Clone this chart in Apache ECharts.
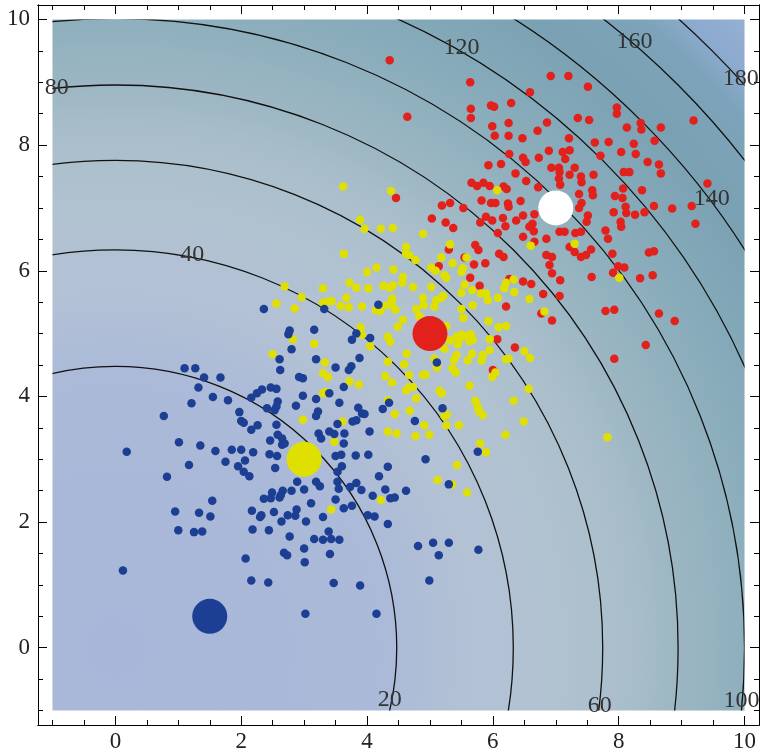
<!DOCTYPE html>
<html>
<head>
<meta charset="utf-8">
<script src="https://cdn.jsdelivr.net/npm/echarts@6/dist/echarts.min.js"></script>
<style>
  html, body, #main { width: 760px; height: 756px; margin: 0; background: #fff; }
</style>
</head>
<body>
<div id="main"></div>
<script>
// contour levels of x^2 + y^2 and where their labels sit [x, y, level]
var contourLevels = [20, 40, 60, 80, 100, 120, 140, 160, 180];
var contourLabels = [
  [4.36, -0.83, 20], [1.22, 6.25, 40], [7.70, -0.92, 60], [-0.93, 8.92, 80],
  [9.95, -0.84, 100], [5.50, 9.55, 120], [9.48, 7.14, 140], [8.25, 9.65, 160], [9.94, 9.06, 180]
];

var majorTicks = [0, 2, 4, 6, 8, 10];
var minorTicks = [-1, -0.5, 0, 0.5, 1, 1.5, 2, 2.5, 3, 3.5, 4, 4.5, 5, 5.5, 6, 6.5, 7, 7.5, 8, 8.5, 9, 9.5, 10];
var plotRange = [-1, 10];
var frameRange = [-1.23, 10.23];

// cluster centres: blue, yellow, red, white
var centers = [[1.5, 0.5], [3, 3], [5, 5], [7, 7]];

var redPoints = [
  [4.36,9.35],[5.64,9.00],[5.97,8.63],[6.02,8.61],[6.29,8.67],[5.65,8.58],[5.65,8.43],[4.64,8.45],[5.99,8.30],[6.25,8.35],
  [6.03,8.15],[6.25,8.15],[6.26,7.86],[5.93,7.68],[6.13,7.70],[6.36,7.55],[5.66,7.40],[5.75,7.35],[5.85,7.40],[5.95,7.35],
  [6.17,7.34],[6.22,7.30],[4.46,7.16],[5.19,7.04],[5.32,7.08],[5.53,7.00],[5.82,7.12],[5.97,7.08],[6.04,7.08],[6.24,7.07],
  [6.25,7.02],[5.03,6.83],[5.25,6.77],[5.37,6.68],[5.80,6.77],[5.89,6.86],[5.99,6.80],[6.16,6.84],[6.37,6.80],[6.20,6.71],
  [6.08,6.60],
  [6.92,9.10],[7.20,9.10],[7.51,8.93],[6.59,8.84],[7.97,8.60],[7.97,8.50],[7.35,8.43],[7.53,8.40],[6.86,8.36],[9.19,8.39],
  [8.35,8.35],[8.36,8.25],[8.13,8.28],[8.67,8.28],[6.71,8.23],[6.47,8.11],[7.21,8.11],[7.62,8.04],[7.84,8.05],[8.24,8.02],
  [8.57,8.07],[6.89,7.91],[7.11,7.89],[7.22,7.92],[7.15,7.78],[8.04,7.89],[8.27,7.86],[7.71,7.83],[6.73,7.80],[6.48,7.80],
  [6.52,7.73],[8.46,7.73],[8.64,7.69],[6.93,7.64],[7.05,7.64],[7.06,7.57],[7.30,7.64],[7.22,7.53],[7.40,7.50],[7.60,7.53],
  [8.08,7.57],[8.17,7.57],[8.67,7.55],[7.05,7.47],[7.41,7.41],[7.07,7.37],[6.72,7.33],[6.53,7.43],[9.41,7.39],[8.07,7.31],
  [8.37,7.28],[7.58,7.28],[7.59,7.20],[7.37,7.22],[7.94,7.19],[8.06,7.16],[6.44,7.11],[7.41,7.08],[7.37,7.00],[8.56,7.03],
  [8.85,6.99],[9.16,7.03],[8.11,7.02],[8.12,6.92],[7.92,6.93],[8.26,6.89],[8.41,6.93],[7.51,6.88],[7.49,6.78],[6.66,6.90],
  [6.48,6.88],[9.22,6.75],[8.03,6.78],[8.04,6.70],[6.63,6.75],[6.58,6.70],[6.65,6.63],[7.06,6.62],[7.14,6.62],[7.31,6.60],
  [7.40,6.62],[7.79,6.64],[6.48,6.54],[7.83,6.51],[6.85,6.51],
  [6.66,6.46],[7.22,6.38],[7.30,6.30],[7.40,6.22],[7.48,6.25],[7.56,6.34],[6.85,6.25],[6.94,6.22],[7.90,6.27],[8.48,6.29],
  [8.56,6.31],[6.90,6.09],[6.94,5.96],[7.99,6.07],[8.09,6.05],[7.91,5.97],[7.57,5.90],[8.34,5.88],[8.54,5.93],[6.48,5.83],
  [6.61,5.79],[7.07,5.85],[6.80,5.63],[7.06,5.60],[6.77,5.32],[6.94,5.21],[7.79,5.36],[7.93,5.38],[8.64,5.32],[8.89,5.20],
  [8.43,4.82],[7.93,4.60],
  [5.30,6.34],[5.14,6.07],[5.55,6.21],[5.72,6.41],[5.77,6.33],[5.70,6.10],[5.88,6.12],[6.10,6.27],[6.17,6.22],[5.64,5.89],
  [5.79,5.76],[6.26,5.87],[6.21,5.43],[6.07,4.91],[6.35,4.78],[6.00,4.42]
];

var yellowPoints = [
  [3.62,7.34],[4.38,7.27],[6.07,7.28],[3.89,6.81],[3.96,6.67],[4.22,6.67],[4.41,6.68],[4.89,6.59],
  [6.60,6.40],[7.30,6.43],[8.01,5.89],[6.58,5.55],[6.82,5.35],[6.50,4.72],[6.59,4.61],[6.57,4.12],[6.49,3.60],
  [2.69,5.75],[2.96,5.58],[2.56,5.48],[2.85,5.40],[2.82,4.91],[2.50,4.67],[2.98,3.63],
  [4.62,6.38],[5.32,6.42],[3.63,6.27],[4.62,6.27],[4.67,6.25],[4.77,6.17],[5.18,6.21],[5.58,6.21],[5.36,6.12],[5.02,6.05],
  [5.09,6.00],[5.23,5.93],[5.52,6.04],[5.50,5.98],[5.26,5.89],[4.00,5.98],[4.15,6.05],[4.42,6.02],[4.57,5.90],[4.56,5.81],
  [3.72,5.81],[3.83,5.73],[4.02,5.72],[3.30,5.72],[4.26,5.76],[4.36,5.73],[4.41,5.77],[4.73,5.74],[5.02,5.74],[5.55,5.78],
  [5.67,5.69],[5.81,5.64],[5.89,5.64],[5.50,5.65],[6.18,5.72],[6.21,5.81],[6.33,5.86],[6.34,5.66],[6.08,5.57],[5.92,5.53],
  [5.18,5.57],[5.21,5.60],[5.10,5.53],[4.89,5.57],[4.90,5.45],[5.07,5.43],[5.68,5.45],[5.50,5.39],[5.53,5.25],[5.93,5.20],
  [6.09,5.10],[6.21,5.12],[4.40,5.56],[4.39,5.48],[4.31,5.45],[3.67,5.57],[3.30,5.49],[3.38,5.51],[3.44,5.52],[3.58,5.44],
  [3.71,5.42],[3.92,5.43],[4.14,5.37],[4.21,5.36],[4.45,5.38],[4.78,5.39],[4.57,5.22],[4.49,5.11],[3.90,5.10],[3.92,4.98],
  [4.05,4.80],[4.33,4.95],[4.37,4.87],[3.16,4.84],[4.83,5.28],[4.88,5.16],[5.26,5.12],[5.31,4.89],[5.42,4.95],[5.47,4.91],
  [5.50,4.98],[5.58,4.96],[5.65,4.99],[5.68,4.90],[5.44,4.83],[5.63,4.88],[5.95,4.91],[5.95,4.74],[5.67,4.68],[5.84,4.66],
  [5.82,4.57],[5.60,4.57],[5.38,4.58],[5.42,4.66],[5.36,4.45],[5.41,4.38],[6.21,4.59],[6.25,4.60],[6.04,4.38],[5.99,4.31],
  [5.23,4.76],[5.07,4.60],[5.11,4.46],[4.63,4.68],[4.59,4.51],[4.67,4.34],[4.33,4.55],[4.29,4.32],[4.40,4.22],[4.89,4.34],
  [4.93,4.35],[5.63,4.17],[5.15,4.09],[5.19,4.05],[4.78,3.97],[4.67,4.15],[4.73,4.15],[4.62,4.10],[3.87,4.19],[3.72,4.24],
  [3.30,4.05],[3.35,4.07],[3.33,4.54],[3.30,4.37],[3.38,4.31],[5.72,3.93],[5.76,3.84],[5.78,3.76],[5.84,3.70],[4.68,3.77],
  [4.44,3.72],[5.27,3.71],[5.23,3.69],[5.26,3.54],[5.46,3.54],[4.91,3.54],[6.33,3.93],[4.33,3.94],[3.61,3.60],
  [4.33,3.44],[4.47,3.41],[4.77,3.37],[4.99,3.39],[6.20,3.39],[5.80,3.25],[5.89,3.11],[3.48,3.28],[5.43,2.91],[5.12,2.67],
  [5.35,2.60],[5.59,2.47],[4.22,2.35],[3.43,2.20],[7.82,3.35]
];

var bluePoints = [
  [2.36,5.39],[2.77,5.05],[2.75,4.99],[2.80,4.75],[2.61,4.59],[2.62,4.42],[2.92,4.31],[2.98,4.29],[1.10,4.45],[1.27,4.45],
  [1.41,4.30],[1.67,4.30],[1.32,4.14],[1.55,3.99],[1.79,3.94],[1.21,3.89],[2.16,3.98],[2.25,4.05],[2.33,4.11],[2.47,4.14],
  [2.56,4.12],[2.58,3.92],[2.41,3.81],[2.53,3.78],[2.56,3.84],[2.98,4.01],[2.87,3.85],[1.97,3.75],[2.00,3.61],[2.04,3.58],
  [0.77,3.69],[2.26,3.54],[2.16,3.47],[2.56,3.55],
  [4.18,5.46],[3.32,5.39],[3.16,5.06],[3.83,5.00],[3.76,4.90],[4.05,4.93],[3.88,4.61],[3.19,4.59],[3.50,4.46],[3.75,4.48],
  [3.71,4.42],[5.11,4.54],[3.63,4.15],[3.40,4.05],[3.19,3.96],[3.56,3.90],[3.86,3.82],[3.92,3.73],[3.96,3.72],[4.35,3.90],
  [4.25,3.80],[3.22,3.76],[3.19,3.69],[3.53,3.56],[3.77,3.60],[3.83,3.62],[4.76,3.61],[5.20,3.81],
  [0.18,3.12],[1.01,3.27],[1.35,3.22],[1.59,3.13],[1.85,3.15],[2.00,3.15],[2.19,3.11],[2.46,3.30],[2.58,3.39],[2.65,3.33],
  [2.65,3.23],[2.69,3.25],[2.45,3.08],[2.57,3.05],[2.54,2.86],[1.17,2.91],[1.75,2.96],[2.06,2.98],[1.95,2.89],[2.04,2.80],
  [2.13,2.73],[0.82,2.72],[2.89,2.64],[3.00,2.52],[2.80,2.50],[2.66,2.50],[2.63,2.43],[2.49,2.47],[2.36,2.37],[2.47,2.38],
  [2.61,2.39],[1.54,2.34],[0.95,2.17],[1.33,2.15],[1.51,2.09],[2.17,2.18],[2.32,2.11],[2.30,2.08],[2.52,2.16],[2.64,2.01],
  [2.74,2.11],[2.86,2.10],[2.88,2.20],[3.03,2.01],[1.00,1.87],[1.25,1.84],[1.38,1.85],[2.18,1.88],[2.44,1.87],[2.77,1.77],
  [3.00,1.58],[2.68,1.51],[2.73,1.47],[3.01,1.36],[2.07,1.42],[0.12,1.23],[2.16,1.07],[2.43,1.04],[3.02,0.54],
  [3.23,3.41],[3.40,3.44],[3.48,3.40],[3.64,3.41],[4.04,3.44],[3.27,3.33],[3.63,3.25],[3.50,3.05],[3.59,3.07],[3.82,3.06],
  [4.02,3.07],[3.60,2.89],[3.53,2.80],[4.33,2.88],[4.93,3.00],[5.76,3.12],[4.19,2.73],[3.19,2.64],[3.25,2.57],[3.53,2.64],
  [3.55,2.53],[3.73,2.56],[3.83,2.62],[3.91,2.51],[4.29,2.52],[4.62,2.50],[4.09,2.42],[4.37,2.38],[4.44,2.39],[3.50,2.36],
  [3.63,2.22],[3.76,2.26],[3.11,2.30],[5.30,2.60],[4.01,2.11],[4.12,2.09],[3.30,2.08],[4.33,1.97],[3.39,1.85],[3.16,1.73],
  [3.30,1.72],[3.43,1.73],[3.56,1.72],[3.41,1.49],[4.81,1.62],[5.05,1.67],[5.30,1.67],[5.14,1.47],[5.77,1.56],[4.99,1.07],
  [3.47,1.03],[3.89,0.99],[4.15,0.54]
];

var blue = '#1c3f94', yellow = '#e0e000', red = '#e2201c';
var centerColors = [blue, yellow, red, '#ffffff'];
var serif = 'Liberation Serif';

// background colour as a function of distance from the origin
var rMax = 14.2;
var shadeStops = [
  [0, '#a8b6d9'], [4.4, '#abbad8'], [5.6, '#b3c1d5'], [7.0, '#b1c2d1'], [8.3, '#a8bdca'],
  [9.0, '#9bb6c2'], [10.0, '#8eafbd'], [11.0, '#83a8b8'], [12.0, '#7aa1b3'], [13.0, '#7ca3b9'],
  [13.5, '#8caacd'], [14.2, '#95b1d4']
];

function plotRect(api) {
  var tl = api.coord([plotRange[0], plotRange[1]]);
  var br = api.coord([plotRange[1], plotRange[0]]);
  return { x: tl[0], y: tl[1], width: br[0] - tl[0], height: br[1] - tl[1] };
}

function renderShade(params, api) {
  var o = api.coord([0, 0]);
  var R = api.size([rMax, 0])[0];
  return {
    type: 'rect',
    shape: plotRect(api),
    silent: true,
    style: {
      fill: {
        type: 'radial', x: o[0], y: o[1], r: R, global: true,
        colorStops: shadeStops.map(function (s) { return { offset: s[0] / rMax, color: s[1] }; })
      }
    }
  };
}

function renderContour(params, api) {
  var o = api.coord([api.value(0), api.value(1)]);
  var r = api.size([Math.sqrt(api.value(2)), 0])[0];
  return {
    type: 'group',
    clipPath: { type: 'rect', shape: plotRect(api) },
    children: [{
      type: 'circle',
      shape: { cx: o[0], cy: o[1], r: r },
      style: { fill: 'none', stroke: '#111', lineWidth: 1.3 }
    }]
  };
}

function renderLabel(params, api) {
  var p = api.coord([api.value(0), api.value(1)]);
  return {
    type: 'text',
    x: p[0], y: p[1],
    style: {
      text: String(api.value(2)),
      fontFamily: serif,
      fontSize: 24,
      fill: '#333',
      align: 'center',
      verticalAlign: 'middle'
    }
  };
}

function axis(dim, pos, ticks, len, labels) {
  var a = {
    type: 'value',
    position: pos,
    min: frameRange[0],
    max: frameRange[1],
    axisLine: { show: true, onZero: false, lineStyle: { color: '#000', width: 1 } },
    axisTick: { show: true, inside: true, length: len, customValues: ticks, lineStyle: { color: '#000', width: 1 } },
    axisLabel: { show: false },
    splitLine: { show: false }
  };
  if (labels) {
    a.axisLabel = {
      show: true,
      customValues: majorTicks,
      fontFamily: serif,
      fontSize: 23,
      color: '#222',
      margin: dim === 'x' ? 5 : 8
    };
  }
  return a;
}

var chart = echarts.init(document.getElementById('main'), null, { renderer: 'canvas' });

chart.setOption({
  animation: false,
  grid: { left: 38, right: 1, top: 5, bottom: 31, containLabel: false },
  xAxis: [
    axis('x', 'bottom', majorTicks, 9, true),
    axis('x', 'bottom', minorTicks, 5, false),
    axis('x', 'top', majorTicks, 9, false),
    axis('x', 'top', minorTicks, 5, false)
  ],
  yAxis: [
    axis('y', 'left', majorTicks, 9, true),
    axis('y', 'left', minorTicks, 5, false),
    axis('y', 'right', majorTicks, 9, false),
    axis('y', 'right', minorTicks, 5, false)
  ],
  series: [
    { type: 'custom', renderItem: renderShade, data: [[0, 0]], silent: true, z: 1 },
    {
      type: 'custom', renderItem: renderContour, silent: true, z: 2,
      data: contourLevels.map(function (l) { return [0, 0, l]; })
    },
    { type: 'custom', renderItem: renderLabel, data: contourLabels, silent: true, z: 3 },
    { type: 'scatter', data: redPoints, symbolSize: 8.5, itemStyle: { color: red, opacity: 1 }, z: 4 },
    { type: 'scatter', data: yellowPoints, symbolSize: 8.5, itemStyle: { color: yellow, opacity: 1 }, z: 4 },
    { type: 'scatter', data: bluePoints, symbolSize: 8.5, itemStyle: { color: blue, opacity: 1 }, z: 4 },
    {
      type: 'scatter', symbolSize: 35, z: 5,
      data: centers.map(function (c, i) {
        return { value: c, itemStyle: { color: centerColors[i], opacity: 1 } };
      })
    }
  ]
});
</script>
</body>
</html>
